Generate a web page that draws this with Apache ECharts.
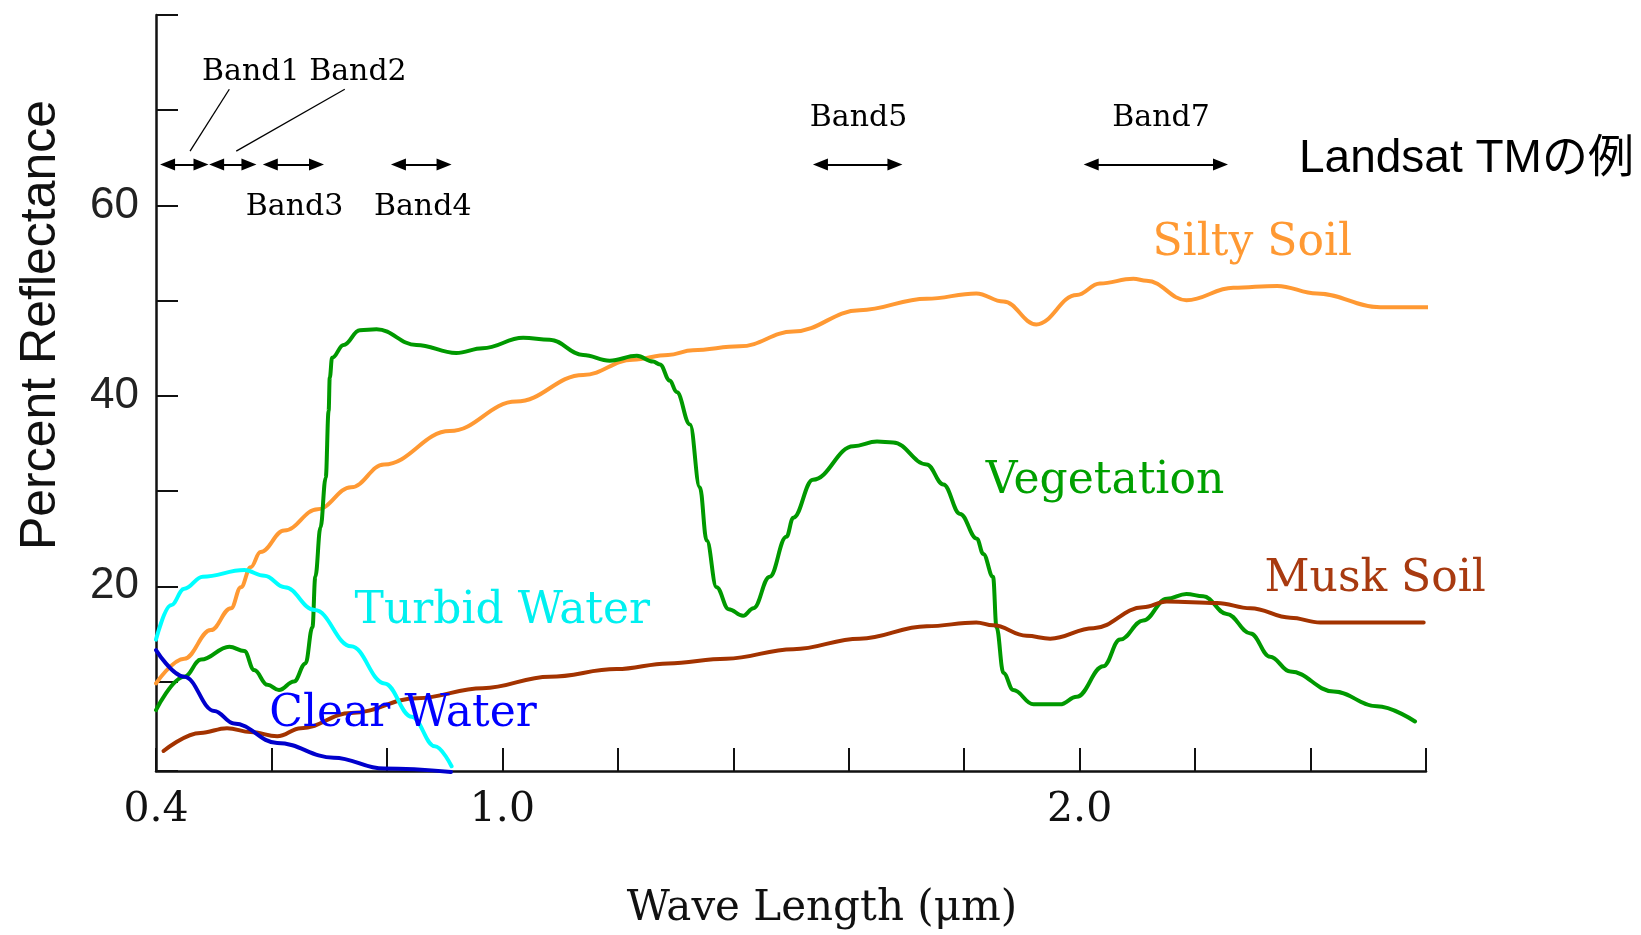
<!DOCTYPE html>
<html>
<head>
<meta charset="utf-8">
<script src="https://cdn.jsdelivr.net/npm/echarts@6/dist/echarts.min.js"></script>
<style>
html,body{margin:0;padding:0;background:#ffffff;}
#chart{width:1641px;height:935px;}
</style>
</head>
<body>
<div id="chart"></div>
<script>
// ---- data: [wavelength (µm), percent reflectance] ----
const siltySoil = [
  [0.400, 9.8], [0.449, 12.4], [0.495, 15.4], [0.530, 17.7], [0.547, 19.9], [0.564, 22.0],
  [0.581, 23.6], [0.622, 25.85], [0.680, 28.1], [0.738, 30.4], [0.795, 32.8], [0.909, 36.3],
  [1.024, 39.4], [1.140, 42.2], [1.226, 43.8], [1.287, 44.3], [1.330, 44.8], [1.411, 45.2],
  [1.504, 46.75], [1.619, 49.0], [1.735, 50.2], [1.821, 50.75], [1.868, 49.9], [1.925, 47.5],
  [1.995, 50.6], [2.035, 51.8], [2.093, 52.3], [2.116, 52.1], [2.185, 50.05], [2.266, 51.35],
  [2.342, 51.55], [2.411, 50.75], [2.521, 49.3], [2.625, 49.3]
];
const vegetation = [
  [0.400, 7.0], [0.449, 10.5], [0.478, 12.3], [0.527, 13.65], [0.553, 13.2], [0.570, 11.2],
  [0.593, 9.65], [0.613, 9.1], [0.639, 10.0], [0.659, 11.9], [0.671, 15.7], [0.676, 21.0],
  [0.685, 26.2], [0.694, 31.4], [0.699, 38.4], [0.701, 41.9], [0.705, 44.0], [0.725, 45.35],
  [0.753, 46.9], [0.782, 47.0], [0.851, 45.35], [0.920, 44.5], [0.966, 45.0], [1.036, 46.1],
  [1.082, 45.9], [1.140, 44.3], [1.186, 43.7], [1.233, 44.2], [1.261, 43.6], [1.273, 43.3],
  [1.290, 41.6], [1.302, 40.4], [1.325, 37.0], [1.342, 30.4], [1.354, 24.8], [1.371, 19.9],
  [1.392, 17.6], [1.417, 16.9], [1.435, 17.7], [1.463, 21.0], [1.492, 25.2], [1.504, 27.2],
  [1.538, 31.2], [1.608, 34.7], [1.649, 35.2], [1.677, 35.1], [1.735, 32.8], [1.764, 30.7],
  [1.793, 27.6], [1.822, 25.0], [1.833, 23.4], [1.850, 21.0], [1.856, 15.7], [1.868, 10.9],
  [1.885, 9.1], [1.920, 7.6], [1.966, 7.6], [1.995, 8.4], [2.041, 11.6], [2.070, 14.4],
  [2.110, 16.4], [2.151, 18.7], [2.185, 19.2], [2.214, 18.95], [2.255, 17.1], [2.296, 15.05],
  [2.330, 12.6], [2.365, 11.05], [2.440, 8.95], [2.515, 7.4], [2.581, 5.8]
];
const muskSoil = [
  [0.413, 2.7], [0.477, 4.6], [0.523, 5.1], [0.564, 4.7], [0.610, 4.25], [0.651, 5.1],
  [0.738, 6.7], [0.853, 8.25], [0.966, 9.3], [1.082, 10.5], [1.198, 11.3], [1.287, 11.9],
  [1.388, 12.4], [1.504, 13.4], [1.619, 14.5], [1.735, 15.8], [1.821, 16.2], [1.850, 15.9],
  [1.908, 14.8], [1.949, 14.5], [2.024, 15.6], [2.110, 17.8], [2.151, 18.4], [2.238, 18.25],
  [2.296, 17.7], [2.365, 16.7], [2.417, 16.2], [2.596, 16.2]
];
const turbidWater = [
  [0.400, 14.4], [0.426, 18.0], [0.449, 19.75], [0.481, 21.0], [0.553, 21.7], [0.588, 21.1],
  [0.623, 19.9], [0.675, 17.5], [0.738, 13.7], [0.796, 9.8], [0.843, 6.3], [0.883, 3.2],
  [0.912, 1.1]
];
const clearWater = [
  [0.400, 13.3], [0.449, 10.5], [0.501, 6.9], [0.535, 5.6], [0.610, 3.55], [0.708, 2.0],
  [0.795, 0.85], [0.911, 0.5]
];

// Landsat TM bands (arrow extents, µm) and the reflectance level they are drawn at
const bandRanges = [[0.420, 0.478], [0.505, 0.561], [0.598, 0.678], [0.820, 0.899], [1.551, 1.680], [2.020, 2.244]];
const bandLevel = 64.3;
const bandLabelTexts = ['Band1 Band2', 'Band3', 'Band4', 'Band5', 'Band7'];
const bandLabelAt = [[0.657, 74.0], [0.640, 59.8], [0.862, 59.8], [1.617, 69.2], [2.141, 69.2]];
const bandLeaders = [[[0.527, 72.2], [0.459, 65.7]], [[0.727, 72.2], [0.539, 65.7]]];

// curve name labels (data coordinates of label centres)
const curveLabelAt = {
  'Silty Soil': [2.299, 56.0],
  'Vegetation': [2.044, 31.0],
  'Musk Soil': [2.512, 20.75],
  'Turbid Water': [1.000, 17.3],
  'Clear Water': [0.828, 6.5]
};

// tick labels
const xTickLabels = ['0.4', '1.0', '2.0'];
const yTickLabels = ['20', '40', '60'];

// ---- styles ----
const SERIF = '"DejaVu Serif", serif';
const SANS = '"Liberation Sans", "Noto Sans CJK JP", sans-serif';

function curve(name, data, lineColor, labelColor) {
  return {
    name: name,
    type: 'line',
    data: data,
    symbol: 'none',
    showSymbol: false,
    smooth: 0.4,
    smoothMonotone: 'x',
    clip: false,
    silent: true,
    lineStyle: { color: lineColor, width: 4, cap: 'round', join: 'round' },
    itemStyle: { color: lineColor },
    markPoint: {
      silent: true,
      animation: false,
      symbol: 'circle',
      symbolSize: 0,
      itemStyle: { color: 'transparent' },
      label: {
        show: true, position: 'inside', formatter: name,
        color: labelColor, fontFamily: SERIF, fontSize: 44,
        align: 'center', verticalAlign: 'middle'
      },
      data: [{ coord: curveLabelAt[name], name: name }]
    }
  };
}

const chart = echarts.init(document.getElementById('chart'), null, { renderer: 'canvas' });

const option = {
  animation: false,
  backgroundColor: '#ffffff',
  title: {
    text: 'Landsat TMの例',
    left: 1299, top: 136, padding: 0,
    textStyle: { fontFamily: SANS, fontSize: 46, fontWeight: 'normal', color: '#000' }
  },
  grid: { left: 156, right: 215, top: 15, bottom: 160, containLabel: false },
  xAxis: {
    type: 'value',
    min: 0.4, max: 2.6, interval: 0.2,
    name: 'Wave Length (μm)',
    nameLocation: 'middle',
    nameGap: 117,
    nameTextStyle: { fontFamily: SERIF, fontSize: 42, color: '#111', padding: [0, 0, 0, 62] },
    axisLine: { show: true, onZero: false, lineStyle: { color: '#111', width: 2.5 } },
    axisTick: { show: true, inside: true, length: 23, lineStyle: { color: '#111', width: 2 } },
    axisLabel: {
      show: true, margin: 19, fontFamily: SERIF, fontSize: 41, color: '#111',
      showMinLabel: true, showMaxLabel: true,
      formatter: function (v) {
        const s = v.toFixed(1);
        return xTickLabels.indexOf(s) >= 0 ? s : '';
      }
    },
    splitLine: { show: false }
  },
  yAxis: {
    type: 'value',
    min: 0.6, max: 80,
    minInterval: 10, maxInterval: 10,
    name: 'Percent Reflectance',
    nameLocation: 'middle',
    nameGap: 90,
    nameRotate: 90,
    nameTextStyle: { fontFamily: SANS, fontSize: 50, color: '#111', padding: [0, 0, 0, 136] },
    axisLine: { show: true, onZero: false, lineStyle: { color: '#111', width: 2.5 } },
    axisTick: { show: true, inside: true, length: 22, lineStyle: { color: '#111', width: 2 } },
    axisLabel: {
      show: true, margin: 17, fontFamily: SANS, fontSize: 44, color: '#222',
      formatter: function (v) {
        const s = String(Math.round(v));
        return (Math.abs(v - Math.round(v)) < 1e-6 && yTickLabels.indexOf(s) >= 0) ? s : '';
      }
    },
    splitLine: { show: false }
  },
  series: [
    curve('Silty Soil', siltySoil, '#ff9933', '#ff9933'),
    curve('Vegetation', vegetation, '#009900', '#00a000'),
    curve('Musk Soil', muskSoil, '#a33300', '#a83a10'),
    curve('Turbid Water', turbidWater, '#00ffff', '#00f0f0'),
    curve('Clear Water', clearWater, '#0000cc', '#0000ff'),
    {
      name: 'Landsat TM bands',
      type: 'line',
      data: [],
      silent: true,
      markLine: {
        silent: true,
        animation: false,
        symbol: ['triangle', 'triangle'],
        symbolSize: [12, 15],
        label: { show: false },
        lineStyle: { color: '#000', width: 2.2, type: 'solid' },
        data: bandRanges.map(function (r) {
          return [{ coord: [r[0], bandLevel] }, { coord: [r[1], bandLevel] }];
        })
      },
      markPoint: {
        silent: true,
        animation: false,
        symbol: 'circle',
        symbolSize: 0,
        itemStyle: { color: 'transparent' },
        label: {
          show: true, position: 'inside', formatter: '{b}',
          color: '#000', fontFamily: SERIF, fontSize: 30,
          align: 'center', verticalAlign: 'middle'
        },
        data: bandLabelTexts.map(function (t, i) { return { name: t, coord: bandLabelAt[i] }; })
      }
    },
    {
      name: 'Band leaders',
      type: 'line',
      data: [],
      silent: true,
      markLine: {
        silent: true,
        animation: false,
        symbol: ['none', 'none'],
        label: { show: false },
        lineStyle: { color: '#000', width: 1.3, type: 'solid' },
        data: bandLeaders.map(function (l) {
          return [{ coord: l[0] }, { coord: l[1] }];
        })
      }
    }
  ]
};

chart.setOption(option);
</script>
</body>
</html>
